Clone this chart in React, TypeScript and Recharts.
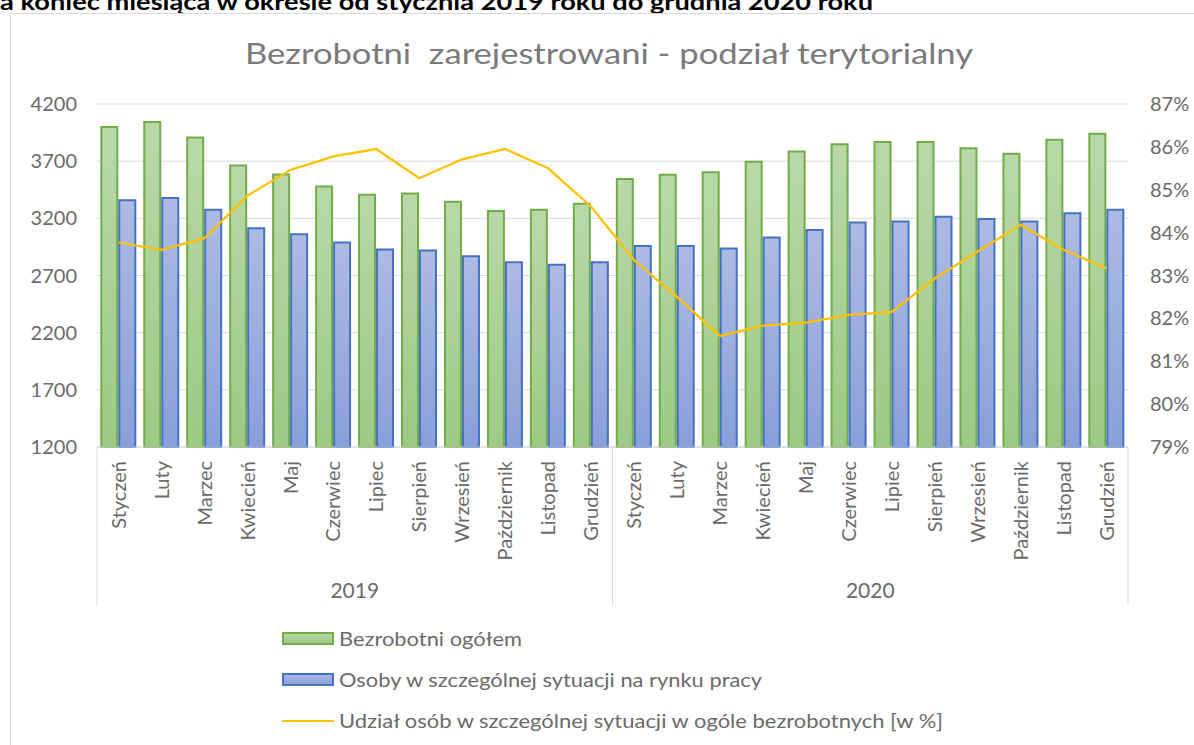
import { ComposedChart, Bar, Line, XAxis, YAxis, CartesianGrid } from 'recharts';

const months = ['Styczeń', 'Luty', 'Marzec', 'Kwiecień', 'Maj', 'Czerwiec', 'Lipiec', 'Sierpień', 'Wrzesień', 'Październik', 'Listopad', 'Grudzień'];
const years = ['2019', '2020'];

// Bezrobotni ogółem
const totalUnemployed = [3999, 4042, 3908, 3662, 3583, 3478, 3406, 3417, 3344, 3265, 3274, 3327,
  3543, 3581, 3604, 3695, 3785, 3849, 3867, 3867, 3814, 3765, 3887, 3940];
// Osoby w szczególnej sytuacji na rynku pracy
const specialSituation = [3359, 3377, 3274, 3114, 3061, 2988, 2927, 2918, 2869, 2816, 2795, 2816,
  2959, 2959, 2936, 3032, 3099, 3163, 3172, 3213, 3195, 3172, 3245, 3274];
// Udział [w %]
const sharePct = [83.77, 83.6, 83.87, 84.86, 85.46, 85.78, 85.95, 85.27, 85.71, 85.95, 85.5, 84.61,
  83.36, 82.5, 81.59, 81.83, 81.9, 82.08, 82.15, 82.93, 83.56, 84.18, 83.6, 83.17];

const leftTicks = [1200, 1700, 2200, 2700, 3200, 3700, 4200];
const rightTicks = [79, 80, 81, 82, 83, 84, 85, 86, 87];

const legendItems = [
  { name: 'Bezrobotni ogółem', kind: 'bar', fill: 'url(#gGreen)', stroke: '#70ad47', len: 183 },
  { name: 'Osoby w szczególnej sytuacji na rynku pracy', kind: 'bar', fill: 'url(#gBlue)', stroke: '#4472c4', len: 423 },
  { name: 'Udział osób w szczególnej sytuacji w ogóle bezrobotnych [w %]', kind: 'line', fill: 'none', stroke: '#ffc000', len: 604 },
];

const data = years.flatMap((year, yi) =>
  months.map((month, mi) => {
    const i = yi * months.length + mi;
    return {
      id: `${year}-${month}`,
      month,
      year,
      total: totalUnemployed[i],
      special: specialSituation[i],
      share: sharePct[i],
    };
  })
);

const FONT = 'Lato, "Open Sans", sans-serif';
const TEXT = '#6a6a6a';
const GRID = '#d9d9d9';

const MonthTick = (props: any) => {
  const { x, y, index, payload } = props;
  const row = data[index];
  const half = payload && payload.offset ? payload.offset : 21.5;
  const last = index === months.length - 1 || index === data.length - 1;
  const mid = index % months.length === months.length / 2 - 1;
  return (
    <g>
      {index === 0 && <line x1={x - half} x2={x - half} y1={y} y2={y + 158} stroke={GRID} />}
      {last && <line x1={x + half} x2={x + half} y1={y} y2={y + 158} stroke={GRID} />}
      <text
        x={x}
        y={y + 14}
        dy="0.36em"
        transform={`rotate(-90, ${x}, ${y + 14})`}
        textAnchor="end"
        fill={TEXT}
        fontSize={20}
        fontFamily={FONT}
      >
        {row ? row.month : payload.value}
      </text>
      {mid && (
        <text x={x + half} y={y + 151} textAnchor="middle" fill={TEXT} fontSize={21} fontFamily={FONT}>
          {row.year}
        </text>
      )}
    </g>
  );
};

const App = () => {
  return (
    <div style={{ position: 'absolute', left: 0, top: 0, width: 1194, height: 745, overflow: 'hidden', background: '#fff' }}>
      <svg width={1194} height={745} style={{ position: 'absolute', left: 0, top: 0 }}>
        <defs>
          <linearGradient id="gGreen" x1="0" y1="0" x2="0" y2="1">
            <stop offset="0%" stopColor="#b9d8aa" />
            <stop offset="100%" stopColor="#9dc985" />
          </linearGradient>
          <linearGradient id="gBlue" x1="0" y1="0" x2="0" y2="1">
            <stop offset="0%" stopColor="#adbbe3" />
            <stop offset="100%" stopColor="#8a9fd9" />
          </linearGradient>
        </defs>
        <text x={0} y={10} fontSize={22} fontWeight={700} fill="#000" fontFamily={FONT} textLength={873} lengthAdjust="spacingAndGlyphs">
          a koniec miesiąca w okresie od stycznia 2019 roku do grudnia 2020 roku
        </text>
        <rect x={10.5} y={13.5} width={1200} height={760} fill="none" stroke={GRID} />
        <text
          x={609}
          y={64}
          textAnchor="middle"
          fontSize={29}
          fill="#7a7a7a"
          fontFamily={FONT}
          textLength={728}
          lengthAdjust="spacingAndGlyphs"
          style={{ whiteSpace: 'pre' }}
        >
          {'Bezrobotni  zarejestrowani - podział terytorialny'}
        </text>
        {legendItems.map((item, i) => {
          const cy = 639 + i * 41;
          return (
            <g key={item.name}>
              {item.kind === 'bar' ? (
                <rect x={283} y={cy - 6} width={50} height={11} fill={item.fill} stroke={item.stroke} strokeWidth={2} />
              ) : (
                <line x1={282} x2={334} y1={cy} y2={cy} stroke={item.stroke} strokeWidth={2} />
              )}
              <text x={339} y={cy} dy="0.35em" fontSize={19} fill={TEXT} fontFamily={FONT} textLength={item.len} lengthAdjust="spacingAndGlyphs">
                {item.name}
              </text>
            </g>
          );
        })}
      </svg>
      <div style={{ position: 'absolute', left: 0, top: 0 }}>
        <ComposedChart
          width={1194}
          height={745}
          data={data}
          margin={{ top: 104, right: 0, bottom: 138, left: 0 }}
          barCategoryGap="10%"
          barGap={2}
        >
          <CartesianGrid vertical={false} stroke={GRID} yAxisId="left" />
          <XAxis
            dataKey="id"
            interval={0}
            height={160}
            tickSize={0}
            tickMargin={0}
            tickLine={false}
            axisLine={{ stroke: GRID }}
            tick={<MonthTick />}
          />
          <YAxis
            yAxisId="left"
            width={97}
            domain={[1200, 4200]}
            ticks={leftTicks}
            tickSize={0}
            tickMargin={20}
            tickLine={false}
            axisLine={false}
            tick={{ fill: TEXT, fontSize: 20, fontFamily: FONT }}
          />
          <YAxis
            yAxisId="right"
            orientation="right"
            width={66}
            domain={[79, 87]}
            ticks={rightTicks}
            tickFormatter={(v: number) => `${v}%`}
            tickSize={0}
            tickMargin={22}
            tickLine={false}
            axisLine={false}
            tick={{ fill: TEXT, fontSize: 20, fontFamily: FONT, textAnchor: 'start' }}
          />
          <Bar yAxisId="left" dataKey="total" name="Bezrobotni ogółem" fill="url(#gGreen)" stroke="#70ad47" strokeWidth={2} isAnimationActive={false} />
          <Bar yAxisId="left" dataKey="special" name="Osoby w szczególnej sytuacji na rynku pracy" fill="url(#gBlue)" stroke="#4472c4" strokeWidth={2} isAnimationActive={false} />
          <Line yAxisId="right" dataKey="share" name="Udział osób w szczególnej sytuacji w ogóle bezrobotnych [w %]" stroke="#ffc000" strokeWidth={2.25} dot={false} activeDot={false} type="linear" isAnimationActive={false} />
        </ComposedChart>
      </div>
    </div>
  );
};

export default App;
